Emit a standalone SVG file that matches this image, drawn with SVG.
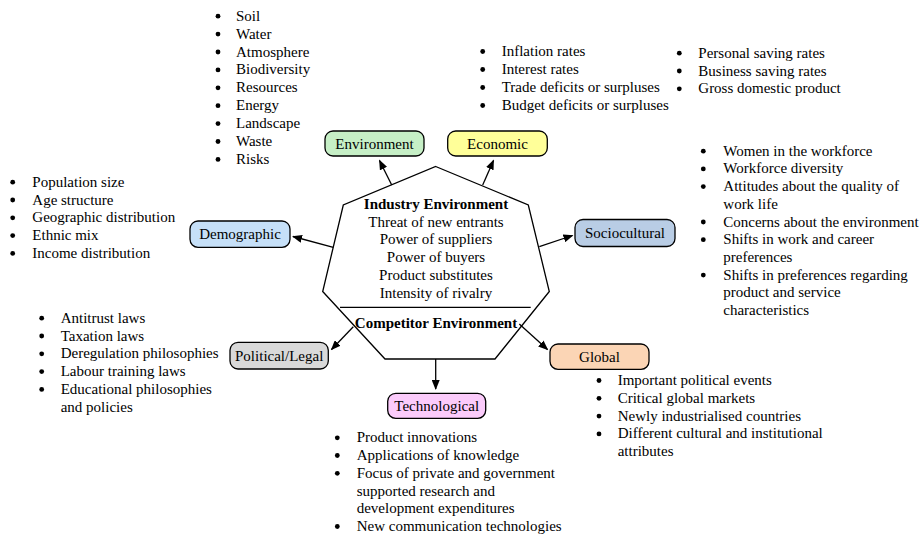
<svg xmlns="http://www.w3.org/2000/svg" width="921" height="538" viewBox="0 0 921 538">
<defs>
<marker id="ah" markerWidth="10" markerHeight="8" refX="9" refY="4" orient="auto" markerUnits="userSpaceOnUse">
<path d="M0,0 L10,4 L0,8 Z" fill="#000"/>
</marker>
<style>
text{font-family:"Liberation Serif","Times New Roman",serif;font-size:15px;fill:#000}
.b{font-weight:bold}
.c{text-anchor:middle}
circle.dot{fill:#000}
.node rect{stroke:#000;stroke-width:1.3}
.conn line{stroke:#000;stroke-width:1.3;marker-end:url(#ah)}
</style>
</defs>
<rect width="921" height="538" fill="#fff"/>

<g id="core">
<polygon points="435.7,166.5 528.3,205 549.3,291.5 495,359 385,359 322.7,291.5 343.3,205" fill="#fff" stroke="#000" stroke-width="1.3"/>
<line x1="340" y1="307.3" x2="530.7" y2="307.3" stroke="#000" stroke-width="1.3"/>
<text class="c b" x="436" y="209">Industry Environment</text>
<text class="c" x="436" y="226.7">Threat of new entrants</text>
<text class="c" x="436" y="244.4">Power of suppliers</text>
<text class="c" x="436" y="262.1">Power of buyers</text>
<text class="c" x="436" y="279.8">Product substitutes</text>
<text class="c" x="436" y="297.5">Intensity of rivalry</text>
<text class="c b" x="436" y="327.7">Competitor Environment</text>
</g>

<g class="conn" id="connectors">
<line x1="391.7" y1="185" x2="379.5" y2="160.5"/>
<line x1="482.7" y1="185" x2="493.5" y2="160.5"/>
<line x1="333.3" y1="247.3" x2="293" y2="236.5"/>
<line x1="539.3" y1="246.7" x2="572.5" y2="235.5"/>
<line x1="353.3" y1="326.7" x2="331.5" y2="349.5"/>
<line x1="519.3" y1="324" x2="547.5" y2="349.5"/>
<line x1="435.7" y1="359" x2="435.7" y2="389"/>
</g>

<g class="node" id="environment">
<rect x="325" y="131" width="99" height="25" rx="8" fill="#c6efc6"/>
<text class="c" x="374.5" y="148.5">Environment</text>
</g>
<g class="node" id="economic">
<rect x="447.7" y="131" width="99.6" height="25" rx="8" fill="#ffff99"/>
<text class="c" x="497.5" y="148.5">Economic</text>
</g>
<g class="node" id="sociocultural">
<rect x="575" y="219.5" width="100" height="27" rx="8" fill="#b9cde5"/>
<text class="c" x="625" y="238">Sociocultural</text>
</g>
<g class="node" id="demographic">
<rect x="190" y="221" width="100" height="26.3" rx="8" fill="#c6e0f8"/>
<text class="c" x="240" y="239">Demographic</text>
</g>
<g class="node" id="political">
<rect x="230" y="342.3" width="98.3" height="26.7" rx="8" fill="#d9d9d9"/>
<text class="c" x="279.2" y="360.5">Political/Legal</text>
</g>
<g class="node" id="global">
<rect x="550" y="344" width="99" height="25.3" rx="8" fill="#fbd5b5"/>
<text class="c" x="599.5" y="361.5">Global</text>
</g>
<g class="node" id="technological">
<rect x="387.7" y="393.3" width="98" height="25" rx="8" fill="#fbcbfb"/>
<text class="c" x="436.7" y="411">Technological</text>
</g>

<g id="list-environment">
<circle class="dot" cx="218" cy="16.2" r="2.4"/><text x="236" y="20.7">Soil</text>
<circle class="dot" cx="218" cy="34.1" r="2.4"/><text x="236" y="38.6">Water</text>
<circle class="dot" cx="218" cy="52" r="2.4"/><text x="236" y="56.5">Atmosphere</text>
<circle class="dot" cx="218" cy="69.9" r="2.4"/><text x="236" y="74.4">Biodiversity</text>
<circle class="dot" cx="218" cy="87.8" r="2.4"/><text x="236" y="92.3">Resources</text>
<circle class="dot" cx="218" cy="105.7" r="2.4"/><text x="236" y="110.2">Energy</text>
<circle class="dot" cx="218" cy="123.6" r="2.4"/><text x="236" y="128.1">Landscape</text>
<circle class="dot" cx="218" cy="141.5" r="2.4"/><text x="236" y="146">Waste</text>
<circle class="dot" cx="218" cy="159.4" r="2.4"/><text x="236" y="163.9">Risks</text>
</g>

<g id="list-economic">
<circle class="dot" cx="482.7" cy="51.5" r="2.4"/><text x="501.7" y="56">Inflation rates</text>
<circle class="dot" cx="482.7" cy="69.5" r="2.4"/><text x="501.7" y="74">Interest rates</text>
<circle class="dot" cx="482.7" cy="87.5" r="2.4"/><text x="501.7" y="92">Trade deficits or surpluses</text>
<circle class="dot" cx="482.7" cy="105.5" r="2.4"/><text x="501.7" y="110">Budget deficits or surpluses</text>
<circle class="dot" cx="679.3" cy="53.2" r="2.4"/><text x="698.3" y="57.7">Personal saving rates</text>
<circle class="dot" cx="679.3" cy="71" r="2.4"/><text x="698.3" y="75.5">Business saving rates</text>
<circle class="dot" cx="679.3" cy="88.8" r="2.4"/><text x="698.3" y="93.3">Gross domestic product</text>
</g>

<g id="list-demographic">
<circle class="dot" cx="12.7" cy="182.2" r="2.4"/><text x="32.3" y="186.7">Population size</text>
<circle class="dot" cx="12.7" cy="200" r="2.4"/><text x="32.3" y="204.5">Age structure</text>
<circle class="dot" cx="12.7" cy="217.8" r="2.4"/><text x="32.3" y="222.3">Geographic distribution</text>
<circle class="dot" cx="12.7" cy="235.6" r="2.4"/><text x="32.3" y="240.1">Ethnic mix</text>
<circle class="dot" cx="12.7" cy="253.4" r="2.4"/><text x="32.3" y="257.9">Income distribution</text>
</g>

<g id="list-sociocultural">
<circle class="dot" cx="703.3" cy="151.2" r="2.4"/><text x="723.3" y="155.7">Women in the workforce</text>
<circle class="dot" cx="703.3" cy="168.9" r="2.4"/><text x="723.3" y="173.4">Workforce diversity</text>
<circle class="dot" cx="703.3" cy="186.6" r="2.4"/><text x="723.3" y="191.1">Attitudes about the quality of</text>
<text x="723.3" y="208.8">work life</text>
<circle class="dot" cx="703.3" cy="222" r="2.4"/><text x="723.3" y="226.5">Concerns about the environment</text>
<circle class="dot" cx="703.3" cy="239.7" r="2.4"/><text x="723.3" y="244.2">Shifts in work and career</text>
<text x="723.3" y="261.9">preferences</text>
<circle class="dot" cx="703.3" cy="275.1" r="2.4"/><text x="723.3" y="279.6">Shifts in preferences regarding</text>
<text x="723.3" y="297.3">product and service</text>
<text x="723.3" y="315">characteristics</text>
</g>

<g id="list-political">
<circle class="dot" cx="41.7" cy="318.2" r="2.4"/><text x="60.7" y="322.7">Antitrust laws</text>
<circle class="dot" cx="41.7" cy="336" r="2.4"/><text x="60.7" y="340.5">Taxation laws</text>
<circle class="dot" cx="41.7" cy="353.8" r="2.4"/><text x="60.7" y="358.3">Deregulation philosophies</text>
<circle class="dot" cx="41.7" cy="371.6" r="2.4"/><text x="60.7" y="376.1">Labour training laws</text>
<circle class="dot" cx="41.7" cy="389.4" r="2.4"/><text x="60.7" y="393.9">Educational philosophies</text>
<text x="60.7" y="411.7">and policies</text>
</g>

<g id="list-global">
<circle class="dot" cx="599" cy="380.5" r="2.4"/><text x="617.7" y="385">Important political events</text>
<circle class="dot" cx="599" cy="398.3" r="2.4"/><text x="617.7" y="402.8">Critical global markets</text>
<circle class="dot" cx="599" cy="416.1" r="2.4"/><text x="617.7" y="420.6">Newly industrialised countries</text>
<circle class="dot" cx="599" cy="433.9" r="2.4"/><text x="617.7" y="438.4">Different cultural and institutional</text>
<text x="617.7" y="456.2">attributes</text>
</g>

<g id="list-technological">
<circle class="dot" cx="337.3" cy="437.8" r="2.4"/><text x="356.7" y="442.3">Product innovations</text>
<circle class="dot" cx="337.3" cy="455.5" r="2.4"/><text x="356.7" y="460">Applications of knowledge</text>
<circle class="dot" cx="337.3" cy="473.3" r="2.4"/><text x="356.7" y="477.8">Focus of private and government</text>
<text x="356.7" y="495.6">supported research and</text>
<text x="356.7" y="513.4">development expenditures</text>
<circle class="dot" cx="337.3" cy="526.5" r="2.4"/><text x="356.7" y="531">New communication technologies</text>
</g>
</svg>
